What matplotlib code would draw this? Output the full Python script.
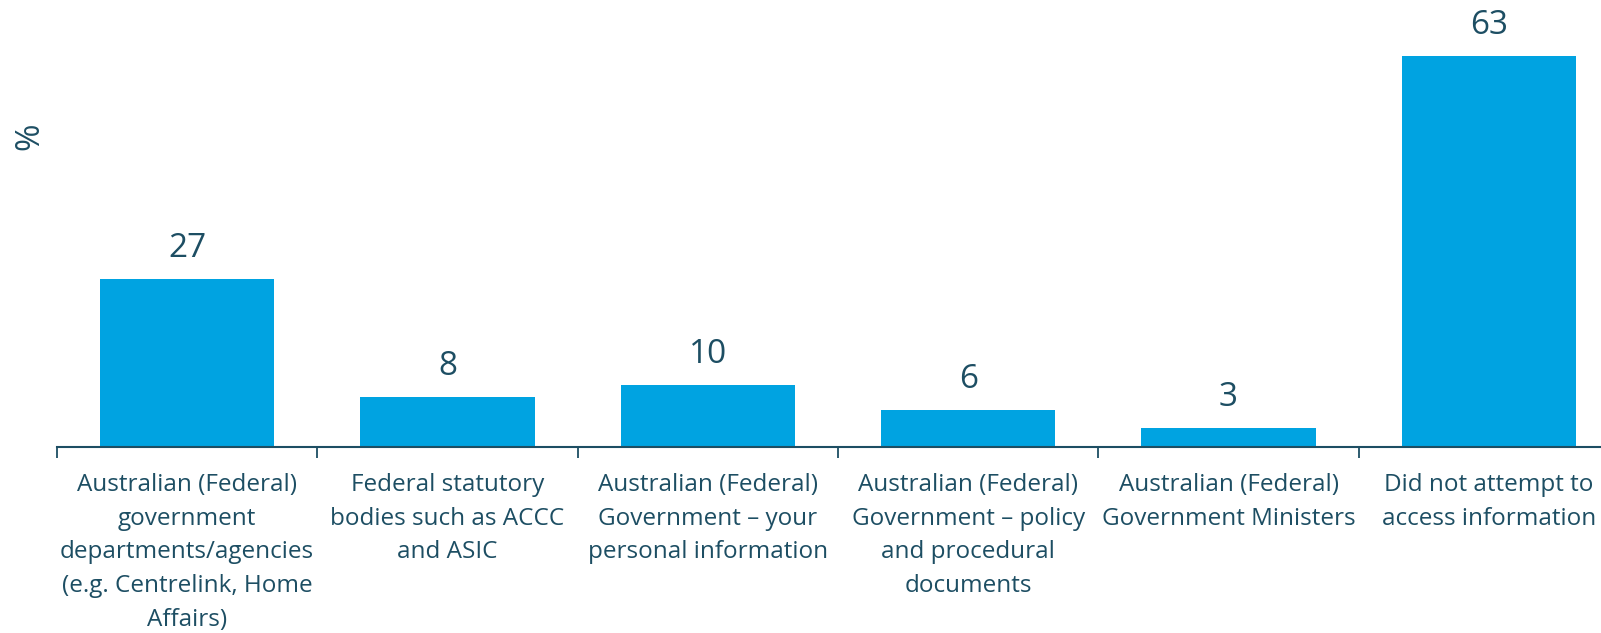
import matplotlib.pyplot as plt
import numpy as np

# Categories and values
categories = [
    "Australian (Federal)\ngovernment\ndepartments/agencies\n(e.g. Centrelink, Home\nAffairs)",
    "Federal statutory\nbodies such as ACCC\nand ASIC",
    "Australian (Federal)\nGovernment \u2013 your\npersonal information",
    "Australian (Federal)\nGovernment \u2013 policy\nand procedural\ndocuments",
    "Australian (Federal)\nGovernment Ministers",
    "Did not attempt to\naccess information",
]
values = [27, 8, 10, 6, 3, 63]

bar_color = '#00A3E1'
text_color = '#1D4E63'

plt.rcParams['font.family'] = ['Open Sans', 'DejaVu Sans']

fig = plt.figure(figsize=(16.01, 6.33), dpi=100)
# axes runs slightly past the right edge, as in the original
ax = fig.add_axes([57 / 1601, 186 / 633, 1562 / 1601, 447 / 633])

x = np.arange(len(values))
bars = ax.bar(x, values, width=0.67, color=bar_color)

ax.set_xlim(-0.5, len(values) - 0.5)
ax.set_ylim(0, 72)

# value labels above bars
for xi, v in zip(x, values):
    ax.annotate(str(v), (xi, v), xytext=(0, 14), textcoords='offset pixels',
                ha='center', va='bottom', fontsize=24, color=text_color)

# category labels
ax.set_xticks(x)
ax.set_xticklabels(categories, fontsize=17.5, color=text_color, linespacing=1.53, va='top')
ax.tick_params(axis='x', which='major', length=0, pad=19)

# boundary ticks
ax.set_xticks(np.arange(-0.5, len(values), 1), minor=True)
ax.tick_params(axis='x', which='minor', length=8, width=1.3, color=text_color, direction='out')

ax.set_yticks([])
for side in ['top', 'right', 'left']:
    ax.spines[side].set_visible(False)
ax.spines['bottom'].set_color(text_color)
ax.spines['bottom'].set_linewidth(1.5)

fig.text(30 / 1601, 1 - 136 / 633, '%', rotation=90, ha='center', va='center',
         fontsize=24, color=text_color)

fig.savefig('out.png', dpi=100)
